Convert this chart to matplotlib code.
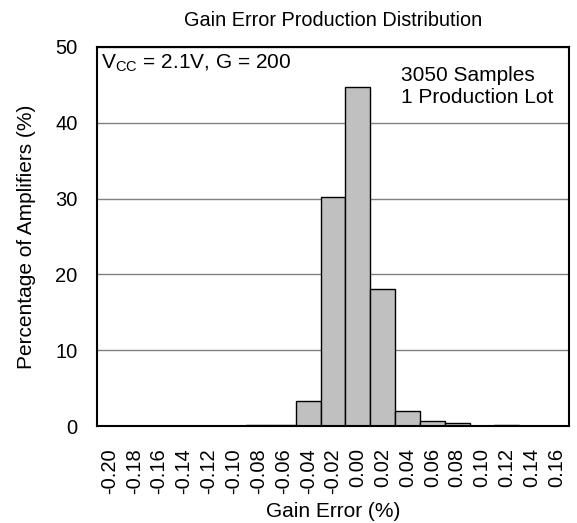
import numpy as np
import matplotlib
matplotlib.use("Agg")
from matplotlib import pyplot as plt

plt.rcParams['font.family'] = ['Liberation Sans', 'DejaVu Sans']

# bin centres (gain error, %) and percentage of amplifiers in each bin
bins = ["-0.20", "-0.18", "-0.16", "-0.14", "-0.12", "-0.10", "-0.08", "-0.06", "-0.04", "-0.02",
        "0.00", "0.02", "0.04", "0.06", "0.08", "0.10", "0.12", "0.14", "0.16"]
percent = [0, 0, 0, 0.05, 0, 0, 0.1, 0.15, 3.3, 30.2,
           44.7, 18.1, 2.0, 0.6, 0.4, 0.05, 0.07, 0.05, 0]
yticks = [0, 10, 20, 30, 40, 50]

fig = plt.figure(figsize=(5.77, 5.23), dpi=100)
ax = fig.add_axes([97/577, 1 - 426/523, 472/577, 379/523])

x = np.arange(len(bins))
ax.bar(x, percent, width=1.0, color="#c0c0c0", edgecolor="black", linewidth=1.0, zorder=3)

ax.set_xlim(-0.5, len(bins) - 0.5)
ax.set_ylim(0, 50)
ax.set_yticks(yticks)
ax.set_xticks(x)
ax.set_xticklabels(bins, rotation=90)
ax.tick_params(axis="x", length=0, labelsize=14.5, pad=16)
ax.tick_params(axis="y", length=0, labelsize=14.5, pad=14)
ax.yaxis.grid(True, color="#808080", linewidth=1.0, zorder=0)
for s in ax.spines.values():
    s.set_linewidth(1.5)
    s.set_zorder(4)

ax.set_xlabel("Gain Error (%)", fontsize=15, labelpad=6)
ax.set_ylabel("Percentage of Amplifiers (%)", fontsize=15, labelpad=14)
ax.set_title("Gain Error Production Distribution", fontsize=14.3, pad=15)

ax.text(0.008, 0.985, r"V$_{\mathregular{CC}}$ = 2.1V, G = 200", transform=ax.transAxes,
        ha="left", va="top", fontsize=15)
ax.text(0.645, 0.95, "3050 Samples\n1 Production Lot", transform=ax.transAxes,
        ha="left", va="top", fontsize=15, linespacing=1.2)

fig.savefig("out.png", dpi=100)
